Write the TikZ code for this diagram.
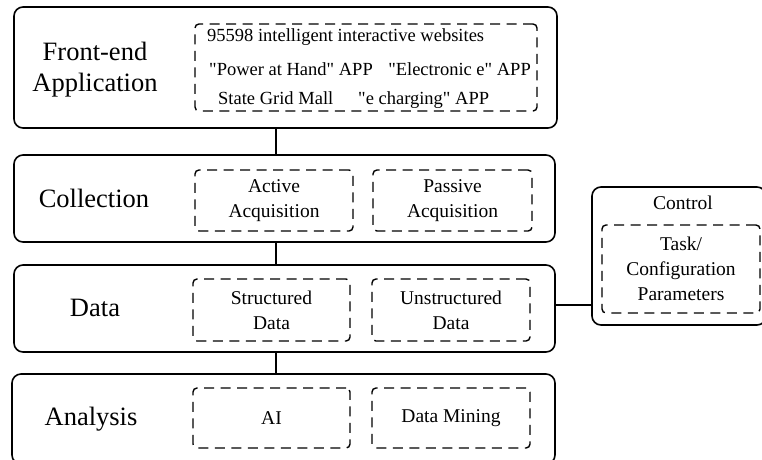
\documentclass[tikz,border=0pt]{standalone}
\usepackage{fontspec}
\setmainfont{Liberation Serif}
\newcommand{\dq}{\textquotedbl}
\begin{document}
\begin{tikzpicture}[x=1pt,y=-1pt,
  layer/.style={draw, line width=1.6pt, rounded corners=9pt, inner sep=0pt},
  sub/.style={draw, line width=1.4pt, dash pattern=on 10pt off 6.5pt, rounded corners=4pt, inner sep=0pt, align=center, font=\fontsize{19.5}{25}\selectfont},
  big/.style={align=center, font=\fontsize{26.5}{31}\selectfont, inner sep=0pt},
  small/.style={font=\fontsize{18.5}{22}\selectfont, inner sep=0pt},
  link/.style={line width=1.6pt}]
\useasboundingbox (0,0) rectangle (762,459);
% outer layers
\node[layer, minimum width=543pt, minimum height=121pt] (fe) at (285.5,67.5) {};
\node[layer, minimum width=541pt, minimum height=87pt] (col) at (284.5,198.5) {};
\node[layer, minimum width=541pt, minimum height=87pt] (dat) at (284.5,308.5) {};
\node[layer, minimum width=543pt, minimum height=90pt] (ana) at (283.5,419) {};
\node[layer, minimum width=174pt, minimum height=138pt] (ctl) at (679,256) {};
% labels
\node[big] (felab) at (95,70) {Front-end\\Application};
\node[big] (collab) at (94,198) {Collection};
\node[big] (datlab) at (95,308) {Data};
\node[big] (analab) at (91,419) {Analysis};
\node[font=\fontsize{19.5}{25}\selectfont, inner sep=0pt] (ctllab) at (683,203) {Control};
% dashed sub boxes
\node[sub, minimum width=342pt, minimum height=87pt] (fesub) at (366,67.5) {};
\node[sub, minimum width=158pt, minimum height=61pt] (act) at (274,200.5) {Active\\Acquisition};
\node[sub, minimum width=159pt, minimum height=61pt] (pas) at (452.5,200.5) {Passive\\Acquisition};
\node[sub, minimum width=157pt, minimum height=62pt] (str) at (271.5,310) {Structured\\Data};
\node[sub, minimum width=158pt, minimum height=62pt] (uns) at (451,310) {Unstructured\\Data};
\node[sub, minimum width=157pt, minimum height=60pt] (ai) at (271.5,418) {AI};
\node[sub, minimum width=158pt, minimum height=60pt] (dm) at (451,418) {Data Mining};
\node[sub, minimum width=158pt, minimum height=88pt] (task) at (681,269) {Task/\\Configuration\\Parameters};
% front-end contents
\node[small, anchor=base west] (w1) at (207,41) {95598 intelligent interactive websites};
\node[small, anchor=base west] (w2) at (209,75) {\dq Power at Hand\dq{} APP};
\node[small, anchor=base east] (w3) at (531,75) {\dq Electronic e\dq{} APP};
\node[small, anchor=base west] (w4) at (218,104) {State Grid Mall};
\node[small, anchor=base west] (w5) at (358,104) {\dq e charging\dq{} APP};
% connectors
\coordinate (c1) at (276,0);
\draw[link] (fe.south -| c1) -- (col.north -| c1);
\draw[link] (col.south -| c1) -- (dat.north -| c1);
\draw[link] (dat.south -| c1) -- (ana.north -| c1);
\coordinate (c2) at (0,305);
\draw[link] (dat.east |- c2) -- (ctl.west |- c2);
\end{tikzpicture}
\end{document}
